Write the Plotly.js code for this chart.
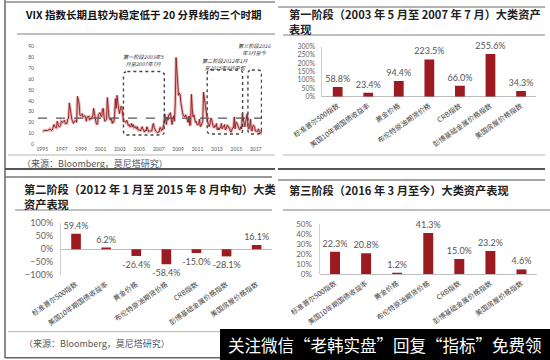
<!DOCTYPE html>
<html><head><meta charset="utf-8">
<script src="https://cdn.plot.ly/plotly-3.0.1.min.js"></script>
<style>html,body{margin:0;padding:0;background:#fff}#chart{width:550px;height:360px}</style>
</head><body><div id="chart"></div>
<script>
// ---------- VIX monthly readings (1995-01 .. 2017-08) ----------
const vixStartYear = 1995;
const vixMonthly = [
  12.5,12,12.5,12.5,12,12.5,12.5,13,13,14,12.5,12.5,      // 1995
  13,16,18,16,15,15,21,17,16,16,17,21,                    // 1996
  20,20,21,22,19,19,19,23,24,38,31,25,                    // 1997
  23,21,19,21,21,22,20,44,40,38,27,26,                    // 1998
  27,28,25,26,26,25,21,25,25,26,22,24,                    // 1999
  23,25,26,33,28,22,20,18,19,27,28,29,                    // 2000
  26,25,32,33,24,21,22,23,43,33,25,23,                    // 2001
  22,24,19,21,20,27,42,33,45,38,29,28,                    // 2002
  32,35,34,26,21,21,20,20,22,18,17,18,                    // 2003
  16,16,19,16,18,15,16,16,14,16,13,13,                    // 2004
  13,12,14,16,14,12,11,13,12,16,12,11.5,                  // 2005
  12,12,11.5,12,17,19,15,12.5,12,11,10.5,11,              // 2006
  11,15,15,12.5,13,15,19,28,20,18,25,22,                  // 2007
  27,27,29,22,18,22,26,21,38,80,65,52,                    // 2008
  45,47,46,38,31,29,26,26,25,27,24,21,                    // 2009
  20,26,17,18,46,33,25,27,22,20,21,18,                    // 2010
  18,18,23,16,17,20,21,48,42,36,33,26,                    // 2011
  21,18,16,19,24,23,18,16,15,17,16,19,                    // 2012
  13,15,13,15,15,19,14,16,16,18,13,14,                    // 2013
  17,17,15,15,12,11,13,15,15,25,14,20,                    // 2014
  20,18,15,14,13,16,14,28,24,17,16,20,                    // 2015
  26,28,16,14,15,23,13,12,17,17,16,12,                    // 2016
  12,11.5,12,14,11,10.5,10,13                             // 2017
];
const yearTicks = [1995,1997,1999,2001,2003,2005,2007,2009,2011,2013,2015,2017];
const yearTickText = ['1995','1997','1999','2001','2003','2005','2007','2009','2011','2013','2015','2017'];
const vixTicks = [0,10,20,30,40,50,60,70,80,90];
const threshold = 24;

const stageNotes = ['第一阶段2003年5<br>月至2007年7月','第二阶段2012年1月<br>至2015年8月中旬','第三阶段2016<br>年3月至今'];
const stageStart = [2003.37, 2012.0, 2016.2];
const stageEnd   = [2007.58, 2015.65, 2017.6];
const stageLow   = [8.3, 9.2, 9.2];
const stageHigh  = [67, 68.5, 68.5];

// ---------- asset returns ----------
const assetNames = ['标准普尔500指数','美国10年期国债收益率','黄金价格','布伦特原油期货价格','CRB指数','彭博基础金属价格指数','美国房屋价格指数'];
const stage1Returns = [58.8, 23.4, 94.4, 223.5, 66.0, 255.6, 34.3];
const stage2Returns = [59.4, 6.2, -26.4, -58.4, -15.0, -28.1, 16.1];
const stage3Returns = [22.3, 20.8, 1.2, 41.3, 15.0, 23.2, 4.6];

const titleVix = 'VIX 指数长期且较为稳定低于 20 分界线的三个时期';
const title1 = '第一阶段（2003 年 5 月至 2007 年 7 月）大类资产<br>表现';
const title2 = '第二阶段（2012 年 1 月至 2015 年 8 月中旬）大类<br>资产表现';
const title3 = '第三阶段（2016 年 3 月至今）大类资产表现';
const sourceText = '（来源：Bloomberg，莫尼塔研究）';
const watermark = '关注微信“老韩实盘”回复“指标”免费领';

// ---------- helpers ----------
const W = 550, H = 360;
const px = v => v / W;
const py = v => 1 - v / H;
const CJK = 'Noto Sans CJK SC, sans-serif';
const NUM = 'Lato, Noto Sans CJK SC, sans-serif';
const red = '#9b1b20';

const vixX = vixMonthly.map((v, i) => vixStartYear + (i + 0.5) / 12);
const pct = a => a.map(v => v.toFixed(1) + '%');

const barTrace = (vals, xa, ya) => ({
  x: assetNames, y: vals, type: 'bar', xaxis: xa, yaxis: ya, marker: {color: red},
  text: pct(vals), textposition: 'outside', cliponaxis: false, constraintext: 'none',
  textfont: {size: 9, color: '#555', family: NUM}
});

const traces = [
  {x: vixX, y: vixMonthly, type: 'scatter', mode: 'lines', xaxis: 'x', yaxis: 'y',
   line: {color: 'rgba(205,95,95,0.45)', width: 3}, hoverinfo: 'skip'},
  {x: vixX, y: vixMonthly, type: 'scatter', mode: 'lines', xaxis: 'x', yaxis: 'y',
   line: {color: '#8a1a1e', width: 0.9}},
  barTrace(stage1Returns, 'x2', 'y2'),
  barTrace(stage2Returns, 'x3', 'y3'),
  barTrace(stage3Returns, 'x4', 'y4')
];

const catAxis = (dom, anchor) => ({
  domain: dom, anchor: anchor, type: 'category', tickangle: -35,
  tickfont: {size: 7, color: '#444', family: CJK}, showgrid: false, showline: false,
  zeroline: false, ticks: '', ticklabelstandoff: 3
});
const valAxis = (dom, anchor, range, dtick, fs) => ({
  domain: dom, anchor: anchor, range: range, dtick: dtick, ticksuffix: '%',
  tickfont: {size: fs, color: '#666', family: NUM}, showgrid: false,
  showline: true, linecolor: '#d0d0d0', linewidth: 1,
  zeroline: true, zerolinecolor: '#bdbdbd', zerolinewidth: 1, ticks: '', ticklabelstandoff: 5
});

// rounded dashed boxes
function roundedBox(x0, x1, y0, y1) {
  const rx = 0.4, ry = 3.6;
  return `M ${x0 + rx},${y1} L ${x1 - rx},${y1} Q ${x1},${y1} ${x1},${y1 - ry} ` +
         `L ${x1},${y0 + ry} Q ${x1},${y0} ${x1 - rx},${y0} L ${x0 + rx},${y0} ` +
         `Q ${x0},${y0} ${x0},${y0 + ry} L ${x0},${y1 - ry} Q ${x0},${y1} ${x0 + rx},${y1} Z`;
}

const hline = (x0, x1, y, color, width) => ({type: 'line', xref: 'paper', yref: 'paper',
  x0: px(x0), x1: px(x1), y0: py(y), y1: py(y), line: {color: color, width: width}});

const vixDomX = [px(38), px(262)];
const shapes = [
  {type: 'line', xref: 'paper', yref: 'paper', x0: px(5), x1: px(5), y0: py(0), y1: py(358), line: {color: '#666', width: 1.5}},
  hline(5, 275, 2, '#888', 1.5),
  hline(17, 275, 34, '#aaa', 1.5),
  hline(8, 275, 155, '#b5b5b5', 1),
  hline(5, 275, 169, '#555', 2),
  hline(278, 545, 7, '#999', 1.5),
  hline(283, 545, 35, '#aaa', 1.5),
  hline(283, 545, 155, '#b5b5b5', 1),
  hline(278, 545, 169, '#555', 2),
  hline(5, 272, 177, '#777', 1.5),
  hline(15, 272, 210, '#aaa', 1.5),
  hline(8, 272, 331.7, '#b5b5b5', 1),
  hline(5, 222, 357.7, '#666', 1.5),
  hline(278, 545, 180, '#888', 1.5),
  hline(283, 550, 210, '#aaa', 1.5),
  {type: 'line', xref: 'paper', yref: 'y', x0: vixDomX[0], x1: vixDomX[1], y0: threshold, y1: threshold,
   line: {color: '#555', width: 1.2, dash: 'dash'}},
  {type: 'rect', xref: 'paper', yref: 'paper', x0: px(220), x1: 1, y0: 0, y1: py(329),
   fillcolor: '#000', line: {width: 0}, layer: 'above'}
];
stageStart.forEach((s, i) => {
  shapes.push({type: 'path', xref: 'x', yref: 'y', path: roundedBox(s, stageEnd[i], stageLow[i], stageHigh[i]),
    line: {color: '#444', width: 1.4, dash: 'dot'}});
});

const ann = (text, x, y, size, opts = {}) => Object.assign({
  text: text, xref: 'paper', yref: 'paper', x: px(x), y: py(y), xanchor: 'left', yanchor: 'middle',
  align: 'left', showarrow: false, font: {size: size, color: '#222', family: CJK}
}, opts);

const annotations = [
  ann('<b>' + titleVix + '</b>', 23, 15, 10.5, {font: {size: 10.5, color: '#111', family: CJK}}),
  ann(sourceText, 20, 164, 9, {font: {size: 9, color: '#555', family: CJK}}),
  ann('<b>' + title1 + '</b>', 287, 21.5, 11.2),
  ann('<b>' + title2 + '</b>', 21.5, 196.5, 11.2),
  ann('<b>' + title3 + '</b>', 286.5, 190, 11.2),
  ann(sourceText, 21.5, 343, 9, {font: {size: 9, color: '#555', family: CJK}}),
  ann(watermark, 226, 345, 16.5, {font: {size: 16.5, color: '#fff', family: CJK}})
];
const noteY = [77.5, 74, 88];
stageNotes.forEach((t, i) => {
  annotations.push({text: t, xref: 'x', yref: 'y', x: (stageStart[i] + stageEnd[i]) / 2, y: noteY[i],
    showarrow: false, xanchor: 'center', yanchor: 'middle',
    font: {size: 5.2, color: '#333', family: CJK, style: 'italic'}});
});

const layout = {
  width: W, height: H, margin: {l: 0, r: 0, t: 0, b: 0},
  paper_bgcolor: '#fff', plot_bgcolor: 'rgba(0,0,0,0)', showlegend: false, bargap: 0.68,
  xaxis: {domain: vixDomX, anchor: 'y', range: [1994.56, 2017.65], tickvals: yearTicks, ticktext: yearTickText,
          tickfont: {size: 5, color: '#555', family: NUM}, showgrid: false, zeroline: false, showline: false,
          ticks: '', ticklabelstandoff: 1},
  yaxis: {domain: [py(144), py(46.7)], anchor: 'x', range: [0, 90], tickvals: vixTicks,
          tickfont: {size: 5, color: '#555', family: NUM}, showgrid: false, zeroline: false, showline: false,
          ticks: '', ticklabelstandoff: 3},
  xaxis2: catAxis([px(322.4), px(536.3)], 'y2'),
  yaxis2: valAxis([py(96.7), py(46.7)], 'x2', [0, 300], 50, 6.9),
  xaxis3: catAxis([px(61), px(271.7)], 'y3'),
  yaxis3: valAxis([py(275), py(223.3)], 'x3', [-100, 100], 50, 9),
  xaxis4: catAxis([px(319.5), px(537)], 'y4'),
  yaxis4: valAxis([py(274), py(224.3)], 'x4', [0, 50], 10, 8),
  shapes: shapes, annotations: annotations
};

Plotly.newPlot('chart', traces, layout, {staticPlot: true, displayModeBar: false});
</script>
</body></html>
